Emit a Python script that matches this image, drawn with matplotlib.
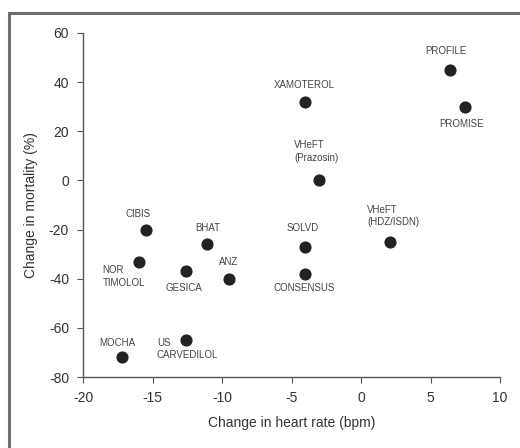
import matplotlib
matplotlib.use("Agg")
import matplotlib.pyplot as plt
from matplotlib.patches import Rectangle

plt.rcParams["font.family"] = ["Liberation Sans", "DejaVu Sans"]
plt.rcParams["axes.unicode_minus"] = False

# trial data: change in heart rate (bpm) vs change in mortality (%)
trials = ["PROFILE", "PROMISE", "XAMOTEROL", "VHeFT\n(Prazosin)", "VHeFT\n(HDZ/ISDN)",
          "SOLVD", "CONSENSUS", "CIBIS", "BHAT", "NOR\nTIMOLOL", "GESICA", "ANZ",
          "MOCHA", "US\nCARVEDILOL"]
hr_change = [6.4, 7.5, -4.0, -3.0, 2.1, -4.0, -4.0, -15.5, -11.1, -16.0, -12.6, -9.5,
             -17.2, -12.6]
mort_change = [45, 30, 32, 0, -25, -27, -38, -20, -26, -33, -37, -40, -72, -65]

# label offsets in pixels (dx, dy) and horizontal alignment
label_pos = {
    "PROFILE": (-4, 19, "center"),
    "PROMISE": (-4, -17, "center"),
    "XAMOTEROL": (-1, 17, "center"),
    "VHeFT\n(Prazosin)": (-25, 29, "left"),
    "VHeFT\n(HDZ/ISDN)": (-23, 26, "left"),
    "SOLVD": (-3, 19, "center"),
    "CONSENSUS": (-1, -14, "center"),
    "CIBIS": (-7, 16, "center"),
    "BHAT": (1, 16, "center"),
    "NOR\nTIMOLOL": (-36, -15, "left"),
    "GESICA": (-2, -17, "center"),
    "ANZ": (0, 17, "center"),
    "MOCHA": (-5, 14, "center"),
    "US\nCARVEDILOL": (-29, -9, "left"),
}

fig = plt.figure(figsize=(5.2, 4.48), dpi=100)
# grey frame around the panel (left/top edges visible)
fig.patches.append(Rectangle((9 / 520, -0.1), 1.2, (448 - 13) / 448 + 0.1,
                             transform=fig.transFigure, fill=False,
                             edgecolor="#6e6e6e", linewidth=2.2))
ax = fig.add_axes([83 / 520, 71 / 448, 417 / 520, 344 / 448])

ax.scatter(hr_change, mort_change, s=60, color="#222222", zorder=3)
px = 72 / fig.dpi
for name, x, y in zip(trials, hr_change, mort_change):
    dx, dy, ha = label_pos[name]
    ax.annotate(name, (x, y), xytext=(dx * px, dy * px), textcoords="offset points",
                ha=ha, va="center", fontsize=7.0, color="#444444", linespacing=1.3)

ax.set_xlim(-20, 10)
ax.set_ylim(-80, 60)
ax.set_xticks(range(-20, 11, 5))
ax.set_yticks(range(-80, 61, 20))
for s in ["top", "right"]:
    ax.spines[s].set_visible(False)
for s in ["left", "bottom"]:
    ax.spines[s].set_color("#555555")
    ax.spines[s].set_linewidth(1.0)
ax.tick_params(colors="#555555", labelcolor="#333333", labelsize=10, length=4,
               direction="out", pad=6)
ax.set_xlabel("Change in heart rate (bpm)", fontsize=10, color="#333333", labelpad=8)
ax.set_ylabel("Change in mortality (%)", fontsize=10, color="#333333", labelpad=8)

fig.savefig("out.png", dpi=100)
